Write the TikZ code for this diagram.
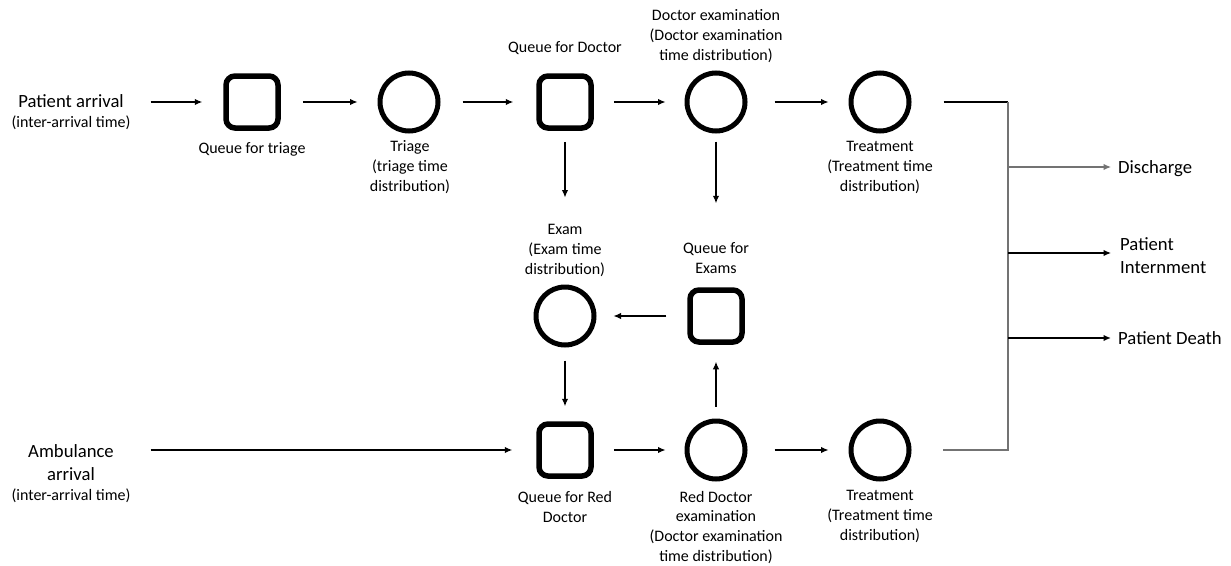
\documentclass[tikz,border=0pt]{standalone}
\usepackage{fontspec}
\setmainfont{Carlito}
\usetikzlibrary{arrows.meta}
\begin{document}
\begin{tikzpicture}[x=1pt,y=-1pt,
  queue/.style={draw, line width=5.5pt, rounded corners=9pt, minimum size=52pt, inner sep=0pt},
  server/.style={circle, draw, line width=5pt, minimum size=58pt, inner sep=0pt},
  lbl/.style={align=center, inner sep=0pt, anchor=base, font=\fontsize{16}{19.6}\selectfont},
  big/.style={align=center, inner sep=0pt, anchor=base, font=\fontsize{18.67}{22.8}\selectfont},
  arr/.style={-{Latex[length=7.5pt,width=6.5pt]}, line width=1.2pt},
  link/.style={line width=1.2pt},
]
\useasboundingbox[fill=white] (0,0) rectangle (1231,565);

% servers and queues
\node[queue]  (qt)  at (252,102) {};
\node[server] (tri) at (409,102) {};
\node[queue]  (qd)  at (565,102) {};
\node[server] (de)  at (716,102) {};
\node[server] (tr1) at (880,102) {};
\node[server] (ex)  at (565,316) {};
\node[queue]  (qe)  at (716,316) {};
\node[queue]  (qrd) at (565,450) {};
\node[server] (rde) at (716,450) {};
\node[server] (tr2) at (880,450) {};

% arrivals (base anchor = baseline of the last line)
\node[big] (pa) at (71,127) {Patient arrival\\[-3pt]{\fontsize{16}{19.6}\selectfont (inter-arrival time)}};
\node[big] (am) at (71,500) {Ambulance\\arrival\\[-3pt]{\fontsize{16}{19.6}\selectfont (inter-arrival time)}};

% labels
\node[lbl] (lqt)  at (252,153) {Queue for triage};
\node[lbl] (ltri) at (410,191) {Triage\\(triage time\\distribution)};
\node[lbl] (lqd)  at (565,52)  {Queue for Doctor};
\node[lbl] (lde)  at (716,60)  {Doctor examination\\(Doctor examination\\time distribution)};
\node[lbl] (ltr1) at (880,191) {Treatment\\(Treatment time\\distribution)};
\node[lbl] (lex)  at (565,274) {Exam\\(Exam time\\distribution)};
\node[lbl] (lqe)  at (716,273) {Queue for\\Exams};
\node[lbl] (lqrd) at (565,522) {Queue for Red\\Doctor};
\node[lbl] (lrde) at (716,561) {Red Doctor\\examination\\(Doctor examination\\time distribution)};
\node[lbl] (ltr2) at (880,540) {Treatment\\(Treatment time\\distribution)};

% outcomes
\node[big, anchor=base west] (dis) at (1118,173) {Discharge};
\node[big, anchor=base west, align=left] (pin) at (1120,273) {Patient\\Internment};
\node[big, anchor=base west] (pdt) at (1118,344) {Patient Death};

% flow of walk-in patients
\draw[arr, shorten <=20pt, shorten >=21pt] (pa.east |- qt) -- (qt.west);
\draw[arr, shorten <=22pt, shorten >=20pt] (qt) -- (tri);
\draw[arr, shorten <=22pt, shorten >=23pt] (tri) -- (qd);
\draw[arr, shorten <=20pt, shorten >=19pt] (qd) -- (de);
\draw[arr, shorten <=27pt, shorten >=20pt] (de) -- (tr1);

% exam loop
\draw[arr, shorten <=11pt, shorten >=87pt] (qd) -- (ex);
\draw[arr, shorten <=8pt, shorten >=84pt] (de) -- (qe);
\draw[arr, shorten <=21pt, shorten >=17pt] (qe) -- (ex);
\draw[arr, shorten <=13pt, shorten >=15pt] (ex) -- (qrd);
\draw[arr, shorten <=12pt, shorten >=17pt] (rde) -- (qe);

% ambulance flow
\draw[arr, shorten <=20pt, shorten >=24pt] (am.east |- qrd) -- (qrd.west);
\draw[arr, shorten <=20pt, shorten >=19pt] (qrd) -- (rde);
\draw[arr, shorten <=27pt, shorten >=20pt] (rde) -- (tr2);

% merge into outcomes
\coordinate (j1) at (1008,102);
\coordinate (j2) at (1008,450);
\coordinate (jd) at (1008,167);
\coordinate (ji) at (1008,253);
\coordinate (jx) at (1008,338);
\draw[link] ([xshift=32pt]tr1.east) -- (j1);
\draw[link, black!55, line join=miter] (j1) -- (j2) -- ([xshift=31pt]tr2.east);
\draw[arr, black!55, shorten >=7pt] (jd) -- (jd -| dis.west);
\draw[arr, shorten >=9pt] (ji) -- (ji -| pin.west);
\draw[arr, line width=1.5pt, shorten >=7pt] (jx) -- (jx -| pdt.west);
\end{tikzpicture}
\end{document}
